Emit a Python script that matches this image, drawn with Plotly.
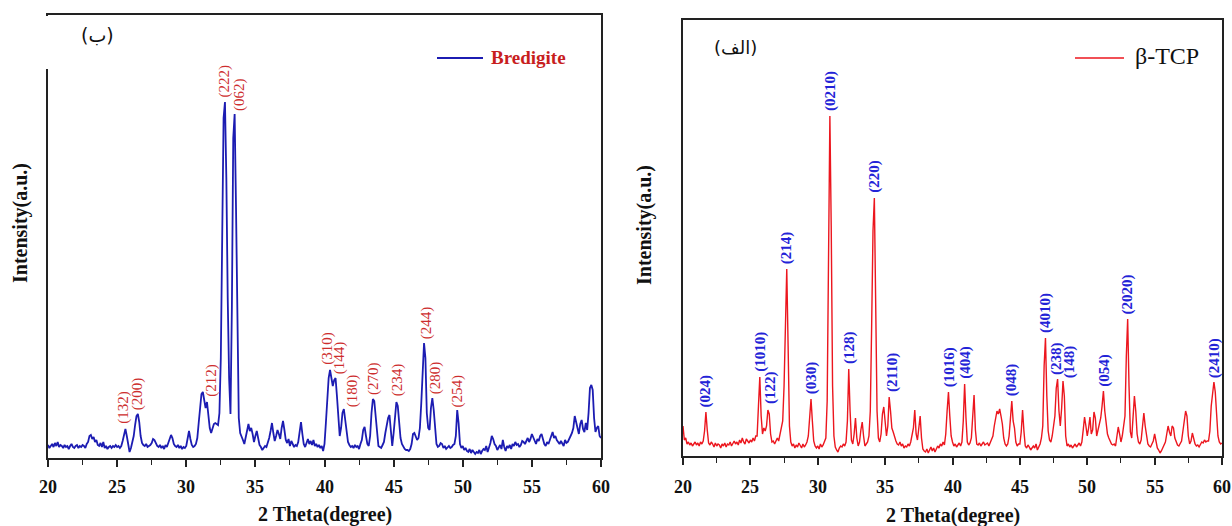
import plotly.graph_objects as go

# ---------------- scan settings (2θ grid, degrees) ----------------
TWO_THETA_START = 20.0
TWO_THETA_STEP = 0.1

# ---------------- Bredigite pattern (a.u.), one row per degree ----------------
bredigite_counts = [
    13, 10, 12, 14, 11, 15, 12, 16, 11, 13,      # 20
    12, 10, 13, 11, 12, 9, 12, 14, 11, 10,       # 21
    12, 13, 10, 12, 11, 13, 12, 10, 14, 16,      # 22
    22, 23, 19, 21, 16, 18, 13, 12, 15, 11,      # 23
    16, 10, 12, 9, 11, 12, 10, 12, 11, 13,       # 24
    11, 12, 10, 12, 17, 25, 29, 22, 14, 6,       # 25
    10, 15, 22, 33, 42, 44, 36, 22, 15, 13,      # 26
    12, 14, 11, 12, 13, 15, 19, 18, 14, 12,      # 27
    11, 13, 10, 12, 9, 13, 11, 15, 17, 23,       # 28
    20, 14, 12, 11, 13, 10, 12, 9, 11, 10,       # 29
    12, 18, 27, 19, 13, 11, 12, 14, 20, 35,      # 30
    52, 64, 66, 55, 50, 56, 45, 30, 25, 30,      # 31
    34, 35, 34, 33, 45, 100, 220, 340, 356, 280, # 32
    160, 80, 44, 150, 320, 344, 250, 120, 40, 25,  # 33
    22, 18, 14, 20, 28, 34, 27, 30, 24, 16,      # 34
    22, 27, 20, 13, 11, 8, 10, 12, 11, 15,       # 35
    20, 27, 35, 25, 17, 22, 28, 24, 19, 30,      # 36
    37, 28, 18, 15, 19, 12, 17, 14, 11, 13,      # 37
    12, 16, 25, 36, 24, 14, 11, 15, 19, 14,      # 38
    17, 13, 18, 12, 14, 11, 13, 10, 12, 7,       # 39
    14, 35, 55, 80, 88, 80, 72, 78, 80, 62,      # 40
    40, 22, 30, 45, 49, 38, 24, 16, 13, 11,      # 41
    12, 10, 13, 11, 12, 9, 14, 18, 28, 31,       # 42
    22, 14, 12, 22, 45, 59, 57, 40, 20, 12,      # 43
    11, 10, 13, 16, 25, 35, 40, 43, 30, 12,      # 44
    25, 45, 56, 52, 35, 20, 14, 11, 9, 8,        # 45
    8, 7, 9, 14, 24, 25, 22, 18, 20, 30,         # 46
    55, 95, 115, 100, 45, 30, 28, 50, 60, 48,    # 47
    25, 14, 11, 12, 15, 14, 10, 12, 9, 11,       # 48
    12, 10, 11, 13, 14, 22, 48, 35, 14, 10,      # 49
    12, 8, 10, 7, 6, 9, 5, 8, 6, 4,              # 50
    6, 5, 8, 4, 7, 9, 8, 12, 6, 10,              # 51
    15, 22, 19, 14, 12, 8, 10, 13, 9, 18,        # 52
    11, 7, 12, 10, 13, 9, 14, 12, 16, 13,        # 53
    14, 11, 13, 17, 16, 14, 17, 20, 16, 19,      # 54
    24, 20, 17, 14, 19, 17, 22, 24, 19, 14,      # 55
    12, 16, 14, 18, 22, 26, 20, 22, 18, 16,      # 56
    14, 17, 15, 12, 18, 15, 16, 20, 22, 25,      # 57
    30, 42, 35, 28, 24, 34, 38, 29, 26, 35,      # 58
    28, 45, 70, 73, 68, 40, 26, 30, 32, 22,      # 59
    20,                                          # 60
]

# ---------------- β-TCP pattern (a.u.), one row per degree ----------------
tcp_counts = [
    30, 16, 18, 12, 14, 11, 13, 10, 12, 14,      # 20
    11, 13, 10, 14, 12, 15, 25, 44, 26, 13,      # 21
    11, 14, 12, 9, 13, 10, 12, 11, 8, 12,        # 22
    10, 13, 9, 12, 11, 14, 10, 13, 15, 12,       # 23
    14, 11, 16, 13, 18, 14, 12, 17, 15, 13,      # 24
    16, 14, 18, 15, 20, 20, 50, 79, 40, 22,      # 25
    28, 25, 30, 46, 42, 22, 14, 15, 12, 16,      # 26
    18, 15, 22, 29, 35, 70, 140, 187, 110, 30,   # 27
    14, 10, 12, 8, 11, 9, 13, 10, 8, 12,         # 28
    9, 11, 14, 20, 38, 57, 35, 15, 10, 8,        # 29
    10, 7, 12, 9, 11, 14, 18, 55, 240, 340,      # 30
    230, 70, 20, 9, 6, 4, 8, 10, 9, 12,          # 31
    10, 14, 35, 87, 45, 16, 12, 22, 38, 18,      # 32
    10, 14, 26, 34, 20, 10, 12, 14, 20, 45,      # 33
    130, 225, 258, 160, 45, 18, 14, 22, 42, 49,  # 34
    35, 20, 30, 59, 45, 28, 24, 18, 15, 12,      # 35
    11, 14, 10, 12, 8, 10, 9, 12, 10, 14,        # 36
    20, 28, 46, 22, 16, 26, 40, 18, 7, 5,        # 37
    4, 7, 3, 6, 9, 5, 8, 4, 7, 10,               # 38
    8, 12, 10, 14, 11, 22, 45, 64, 40, 20,       # 39
    14, 10, 12, 9, 11, 13, 10, 14, 35, 72,       # 40
    38, 14, 11, 13, 18, 40, 61, 26, 12, 11,      # 41
    13, 10, 12, 14, 11, 12, 13, 10, 14, 16,      # 42
    20, 30, 38, 45, 42, 47, 40, 32, 18, 12,      # 43
    10, 12, 20, 38, 55, 35, 28, 14, 10, 12,      # 44
    12, 24, 46, 25, 10, 8, 11, 9, 6, 8,          # 45
    10, 8, 12, 6, 9, 12, 18, 30, 90, 118,        # 46
    60, 25, 16, 14, 20, 28, 40, 68, 77, 45,      # 47
    30, 48, 75, 60, 20, 10, 12, 9, 11, 8,        # 48
    10, 12, 9, 11, 13, 10, 14, 26, 39, 30,       # 49
    20, 28, 39, 22, 26, 44, 38, 20, 26, 30,      # 50
    38, 50, 65, 45, 30, 22, 18, 14, 12, 11,      # 51
    12, 10, 18, 29, 22, 14, 20, 28, 40, 100,     # 52
    137, 70, 24, 18, 38, 60, 45, 22, 14, 12,     # 53
    16, 28, 43, 30, 18, 12, 10, 9, 12, 15,       # 54
    22, 16, 8, 6, 3, 5, 8, 10, 14, 22,           # 55
    30, 24, 20, 30, 28, 18, 14, 11, 10, 12,      # 56
    15, 25, 38, 45, 40, 20, 12, 15, 23, 18,      # 57
    12, 10, 11, 9, 12, 14, 13, 16, 14, 15,       # 58
    15, 25, 50, 66, 74, 64, 40, 20, 14, 12,      # 59
    13,                                          # 60
]

# ---------------- Miller-index labels ----------------
bredigite_hkl = ["(132)", "(200)", "(212)", "(222)", "(062)", "(310)", "(144)",
                 "(180)", "(270)", "(234)", "(244)", "(280)", "(254)"]
bredigite_hkl_x = [25.45, 26.5, 31.8, 32.8, 33.85, 40.2, 41.1,
                   42.05, 43.55, 45.3, 47.4, 48.05, 49.65]
bredigite_hkl_y = [32, 46, 59, 359, 345, 91, 82, 49, 61, 60, 117, 62, 49]

tcp_hkl = ["(024)", "(1010)", "(122)", "(214)", "(030)", "(0210)", "(128)",
           "(220)", "(2110)", "(1016)", "(404)", "(048)", "(4010)", "(238)",
           "(148)", "(054)", "(2020)", "(2410)"]
tcp_hkl_x = [21.7, 25.7, 26.5, 27.7, 29.55, 30.9, 32.35, 34.2, 35.55, 39.75,
             40.95, 44.4, 46.87, 47.72, 48.7, 51.27, 52.98, 59.43]
tcp_hkl_y = [47, 82, 50, 190, 60, 343, 90, 261, 62, 67, 75, 58, 121, 79,
             76, 67, 140, 76]

# ---------------- axis ticks ----------------
tick_values = [20, 25, 30, 35, 40, 45, 50, 55, 60]
tick_labels = ["20", "25", "30", "35", "40", "45", "50", "55", "60"]

two_theta = [round(TWO_THETA_START + i * TWO_THETA_STEP, 1)
             for i in range(len(bredigite_counts))]

W, H = 1232, 526
SERIF = "Liberation Serif"
BLUE_LINE = "rgb(28,28,178)"
RED_LINE = "rgb(236,22,30)"
HKL_RED = "rgb(205,45,45)"
HKL_BLUE = "rgb(35,35,215)"


def px_x(p):
    return p / W


def px_y(p):
    return 1 - p / H


fig = go.Figure()
fig.add_trace(go.Scatter(
    x=two_theta, y=bredigite_counts, mode="lines", name="Bredigite",
    line=dict(color=BLUE_LINE, width=1.8), xaxis="x", yaxis="y",
    showlegend=False))
fig.add_trace(go.Scatter(
    x=two_theta, y=tcp_counts, mode="lines", name="β-TCP",
    line=dict(color=RED_LINE, width=1.4), xaxis="x2", yaxis="y2",
    showlegend=False))

common_x = dict(range=[20, 60], tickvals=tick_values, showticklabels=False,
                ticks="outside", ticklen=7, tickwidth=1.5, tickcolor="#222",
                minor=dict(dtick=2.5, tick0=20, ticks="outside", ticklen=5,
                           tickwidth=1.3, tickcolor="#222"),
                showline=True, linecolor="#222", linewidth=1.6, mirror=True,
                showgrid=False, zeroline=False, fixedrange=True)
common_y = dict(showticklabels=False, ticks="", showline=True,
                linecolor="#222", linewidth=1.6, mirror=True,
                showgrid=False, zeroline=False, fixedrange=True)

annotations = []
for t, xv, yv in zip(bredigite_hkl, bredigite_hkl_x, bredigite_hkl_y):
    annotations.append(dict(x=xv, y=yv, xref="x", yref="y", text=t,
                            textangle=-90, showarrow=False, xanchor="center",
                            yanchor="bottom",
                            font=dict(family=SERIF, size=15, color=HKL_RED)))
for t, xv, yv in zip(tcp_hkl, tcp_hkl_x, tcp_hkl_y):
    annotations.append(dict(x=xv, y=yv, xref="x2", yref="y2", text=t,
                            textangle=-90, showarrow=False, xanchor="center",
                            yanchor="bottom",
                            font=dict(family=SERIF, size=15, color=HKL_BLUE,
                                      weight="bold")))

# tick labels under each panel
tick_font = dict(family=SERIF, size=18, color="#111", weight="bold")
for xref in ("x", "x2"):
    for tv, tt in zip(tick_values, tick_labels):
        annotations.append(dict(x=tv, y=px_y(487), xref=xref, yref="paper",
                                text=tt, showarrow=False, xanchor="center",
                                yanchor="middle", font=tick_font))

title_font = dict(family=SERIF, size=20, color="#111", weight="bold")
for cx, cy in [(325, 514), (953, 515)]:
    annotations.append(dict(x=px_x(cx), y=px_y(cy), xref="paper", yref="paper",
                            text="2 Theta(degree)", showarrow=False,
                            xanchor="center", yanchor="middle", font=title_font))
for cx, cy in [(20, 223), (645, 225)]:
    annotations.append(dict(x=px_x(cx), y=px_y(cy), xref="paper", yref="paper",
                            text="Intensity(a.u.)", showarrow=False, textangle=-90,
                            xanchor="center", yanchor="middle", font=title_font))

annotations.append(dict(x=px_x(97), y=px_y(35), xref="paper", yref="paper",
                        text="(ب)", showarrow=False, xanchor="center",
                        yanchor="middle",
                        font=dict(family="DejaVu Sans", size=19, color="#111")))
annotations.append(dict(x=px_x(735), y=px_y(47), xref="paper", yref="paper",
                        text="(الف)", showarrow=False, xanchor="center",
                        yanchor="middle",
                        font=dict(family="DejaVu Sans", size=18, color="#111")))

# legend keys
annotations.append(dict(x=px_x(489), y=px_y(58), xref="paper", yref="paper",
                        text="Bredigite", showarrow=False, xanchor="left",
                        yanchor="middle",
                        font=dict(family=SERIF, size=19, color="rgb(200,30,30)",
                                  weight="bold")))
annotations.append(dict(x=px_x(1133), y=px_y(56), xref="paper", yref="paper",
                        text="β-TCP", showarrow=False, xanchor="left",
                        yanchor="middle",
                        font=dict(family=SERIF, size=24, color="#111")))

shapes = [
    # white patch that opens the upper part of the left panel's frame
    dict(type="rect", xref="paper", yref="paper", layer="above",
         x0=px_x(45), x1=px_x(51), y0=px_y(69), y1=px_y(16),
         fillcolor="white", line=dict(width=0)),
    dict(type="line", xref="paper", yref="paper",
         x0=px_x(437), x1=px_x(483), y0=px_y(58), y1=px_y(58),
         line=dict(color=BLUE_LINE, width=2)),
    dict(type="line", xref="paper", yref="paper",
         x0=px_x(1075), x1=px_x(1124), y0=px_y(58), y1=px_y(58),
         line=dict(color=RED_LINE, width=1.6)),
]

fig.update_layout(
    width=W, height=H, margin=dict(l=0, r=0, t=0, b=0),
    paper_bgcolor="white", plot_bgcolor="white", showlegend=False,
    xaxis=dict(domain=[px_x(48), px_x(601)], anchor="y", **common_x),
    yaxis=dict(domain=[px_y(458), px_y(15)], anchor="x", range=[0, 443],
               **common_y),
    xaxis2=dict(domain=[px_x(683), px_x(1222)], anchor="y2", **common_x),
    yaxis2=dict(domain=[px_y(456), px_y(20)], anchor="x2", range=[0, 436],
                **common_y),
    annotations=annotations,
    shapes=shapes,
)

fig.write_html("out.html")
